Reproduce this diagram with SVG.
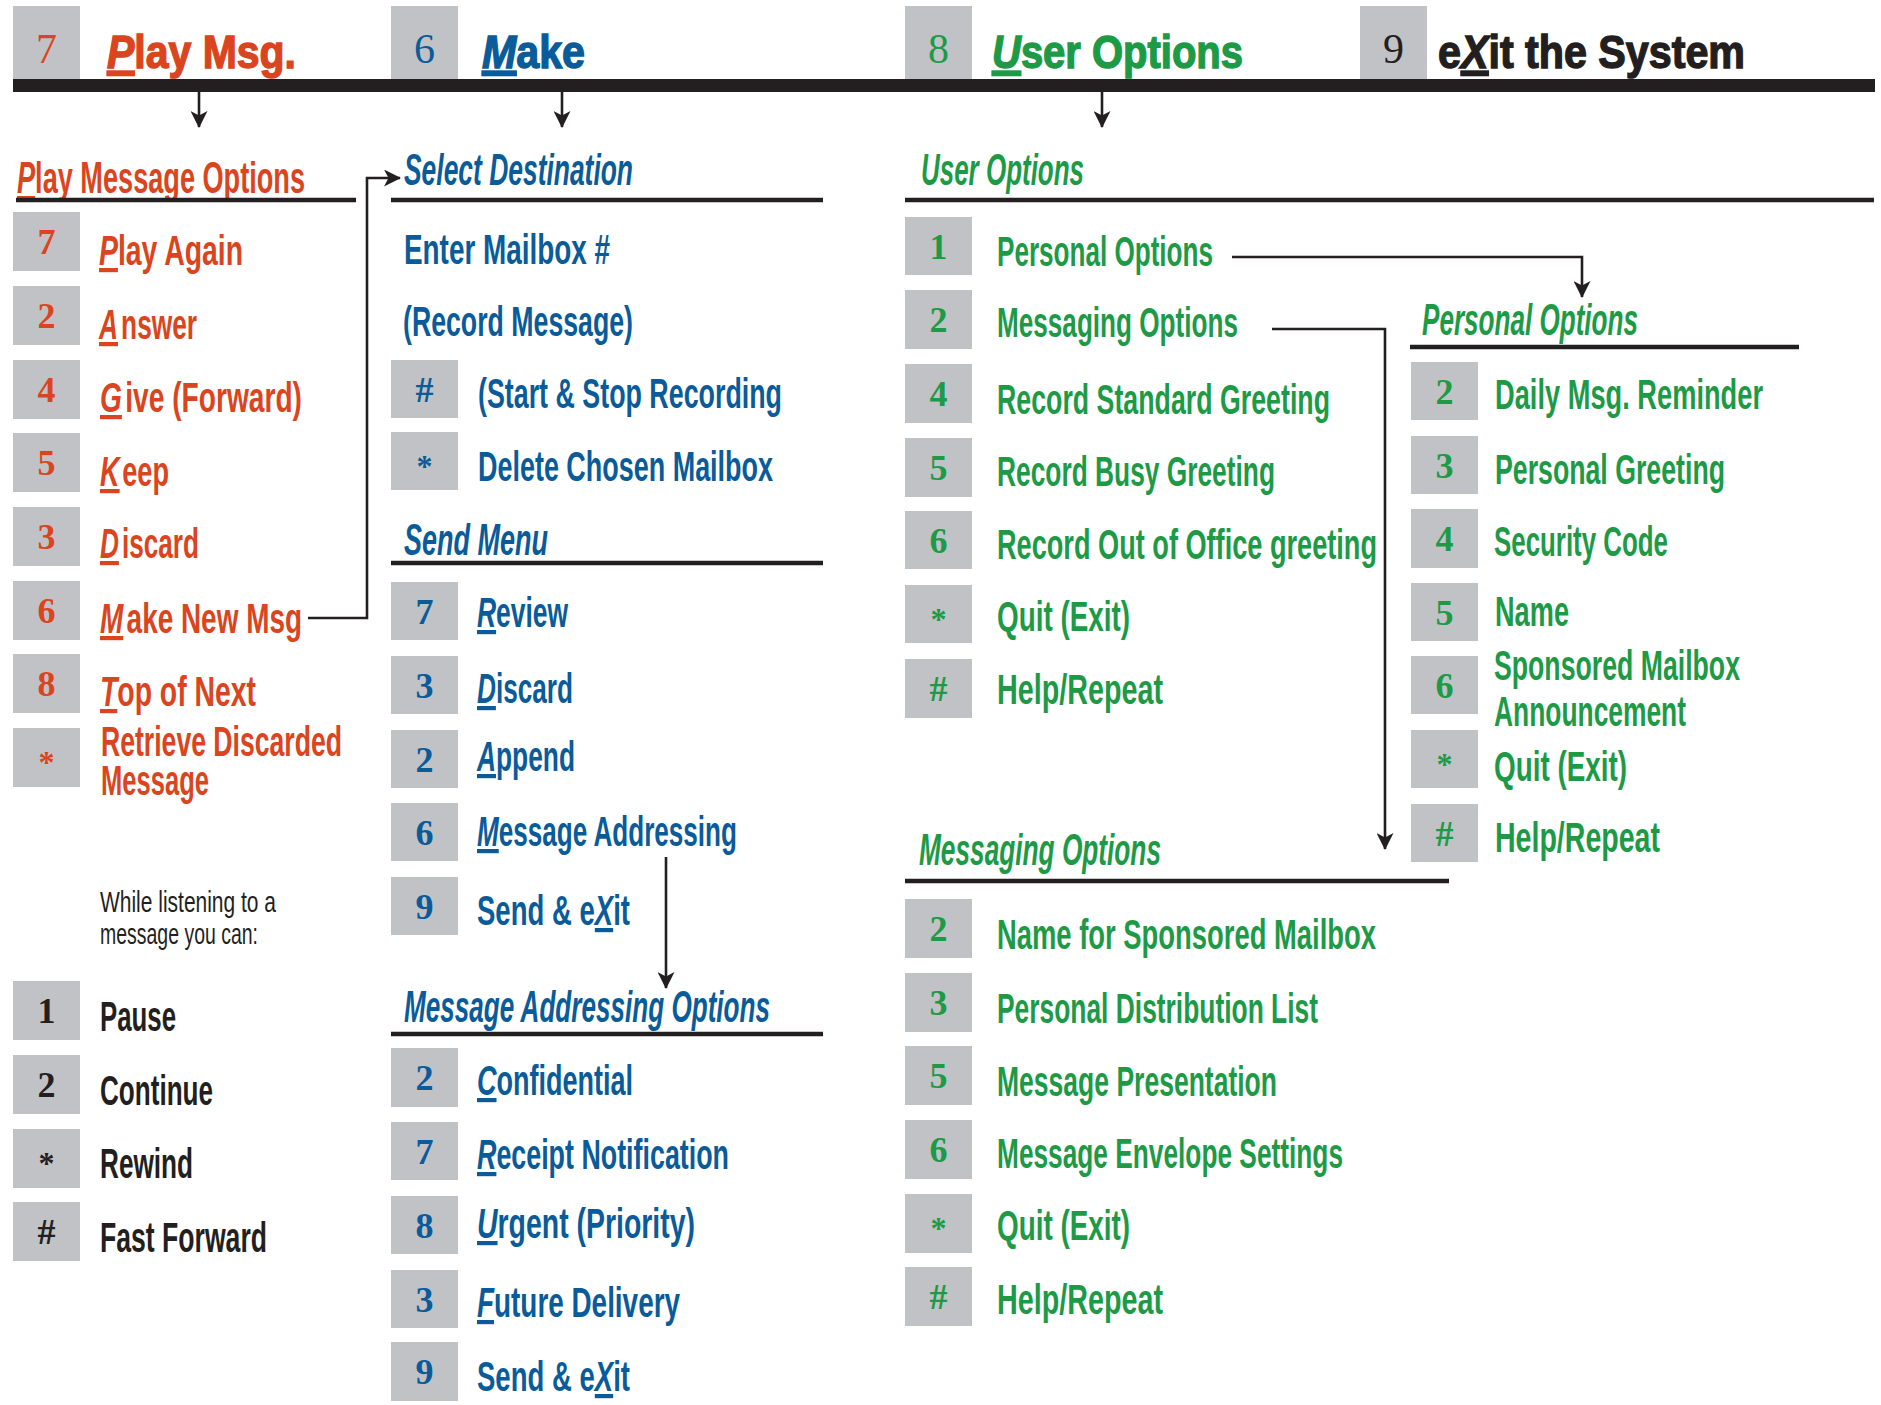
<svg xmlns="http://www.w3.org/2000/svg" width="1881" height="1405" viewBox="0 0 1881 1405">
<style>
.bg{fill:#ffffff}
.bx{fill:#C1C2C6}
.bar{fill:#231F20}
.hl{stroke:#231F20;stroke-width:4.5;fill:none}
.cn{stroke:#231F20;stroke-width:2.6;fill:none}
.num{font-family:"Liberation Serif","Times New Roman",serif;font-weight:bold;font-size:36px;text-anchor:middle}
.ast{font-family:"Liberation Serif","Times New Roman",serif;font-weight:bold;font-size:32px;text-anchor:middle}
.hn{font-family:"Liberation Serif","Times New Roman",serif;font-size:42px;text-anchor:middle}
.t{font-family:"Liberation Sans",Arial,sans-serif;font-size:42px;font-weight:bold}
.sm{font-family:"Liberation Sans",Arial,sans-serif;font-size:30px;font-weight:normal}
.hd{font-family:"Liberation Sans",Arial,sans-serif;font-size:44px;font-weight:bold;font-style:italic}
.H{font-family:"Liberation Sans",Arial,sans-serif;font-size:46px;font-weight:bold;stroke-width:1.4}
.it{font-style:italic}
.u{text-decoration:underline}
.r{fill:#DA4520}
.b{fill:#0A5B9A}
.g{fill:#1D9A46}
.k{fill:#231F20}
.rs{stroke:#DA4520}
.bs{stroke:#0A5B9A}
.gs{stroke:#1D9A46}
.ks{stroke:#231F20}
</style>
<defs>
<marker id="ah" viewBox="0 0 17 17" refX="16" refY="8.5" markerWidth="17" markerHeight="17" markerUnits="userSpaceOnUse" orient="auto">
<path d="M0,0 L17,8.5 L0,17 L4.5,8.5 Z" fill="#231F20"/>
</marker>
</defs>
<rect class="bg" x="0" y="0" width="1881" height="1405"/>

<!-- Header -->
<g id="header">
<rect class="bar" x="13" y="79" width="1862" height="13"/>
<g id="hdr-play">
<rect class="bx" x="13" y="6" width="67" height="73"/>
<text class="hn r" x="46.5" y="63">7</text>
<text class="H r rs" x="107" y="68" textLength="189" lengthAdjust="spacingAndGlyphs"><tspan class="it u">P</tspan>lay Msg.</text>
</g>
<g id="hdr-make">
<rect class="bx" x="391" y="6" width="67" height="73"/>
<text class="hn b" x="424.5" y="63">6</text>
<text class="H b bs" x="482" y="68" textLength="103" lengthAdjust="spacingAndGlyphs"><tspan class="it u">M</tspan>ake</text>
</g>
<g id="hdr-user">
<rect class="bx" x="905" y="6" width="67" height="73"/>
<text class="hn g" x="938.5" y="63">8</text>
<text class="H g gs" x="992" y="68" textLength="251" lengthAdjust="spacingAndGlyphs"><tspan class="it u">U</tspan>ser Options</text>
</g>
<g id="hdr-exit">
<rect class="bx" x="1360" y="6" width="67" height="73"/>
<text class="hn k" x="1393.5" y="63">9</text>
<text class="H k ks" x="1438" y="68" textLength="307" lengthAdjust="spacingAndGlyphs">e<tspan class="it u">X</tspan>it the System</text>
</g>
</g>

<!-- Play Message Options column -->
<g id="play-options">
<text class="hd r" x="17" y="193" textLength="288" lengthAdjust="spacingAndGlyphs" style="font-style:normal"><tspan class="it u">P</tspan>lay Message Options</text>
<line class="hl" x1="16" y1="200" x2="356" y2="200"/>
</g>
<g id="play-7"><rect class="bx" x="13" y="212" width="67" height="59"/><text class="num r" x="46.5" y="254">7</text>
<text class="t r" x="99" y="265" textLength="144" lengthAdjust="spacingAndGlyphs"><tspan class="it u">P</tspan>lay Again</text></g>
<g id="play-2"><rect class="bx" x="13" y="286" width="67" height="59"/><text class="num r" x="46.5" y="328">2</text>
<text class="t r" x="99" y="339" textLength="98" lengthAdjust="spacingAndGlyphs"><tspan class="it u">A</tspan><tspan dx="5">nswer</tspan></text></g>
<g id="play-4"><rect class="bx" x="13" y="360" width="67" height="59"/><text class="num r" x="46.5" y="402">4</text>
<text class="t r" x="100" y="412" textLength="202" lengthAdjust="spacingAndGlyphs"><tspan class="it u">G</tspan><tspan dx="5">ive (Forward)</tspan></text></g>
<g id="play-5"><rect class="bx" x="13" y="433" width="67" height="59"/><text class="num r" x="46.5" y="475">5</text>
<text class="t r" x="100" y="486" textLength="69" lengthAdjust="spacingAndGlyphs"><tspan class="it u">K</tspan><tspan dx="4">eep</tspan></text></g>
<g id="play-3"><rect class="bx" x="13" y="507" width="67" height="59"/><text class="num r" x="46.5" y="549">3</text>
<text class="t r" x="100" y="558" textLength="99" lengthAdjust="spacingAndGlyphs"><tspan class="it u">D</tspan><tspan dx="5">iscard</tspan></text></g>
<g id="play-6"><rect class="bx" x="13" y="581" width="67" height="59"/><text class="num r" x="46.5" y="623">6</text>
<text class="t r" x="100" y="633" textLength="202" lengthAdjust="spacingAndGlyphs"><tspan class="it u">M</tspan><tspan dx="5">ake New Msg</tspan></text></g>
<g id="play-8"><rect class="bx" x="13" y="654" width="67" height="59"/><text class="num r" x="46.5" y="696">8</text>
<text class="t r" x="100" y="706" textLength="156" lengthAdjust="spacingAndGlyphs"><tspan class="it u">T</tspan>op of Next</text></g>
<g id="play-star"><rect class="bx" x="13" y="728" width="67" height="59"/><text class="ast r" x="46.5" y="773">*</text>
<text class="t r" x="101" y="756" textLength="241" lengthAdjust="spacingAndGlyphs">Retrieve Discarded</text>
<text class="t r" x="101" y="795" textLength="108" lengthAdjust="spacingAndGlyphs">Message</text></g>

<!-- While listening -->
<g id="listen-note">
<text class="sm k" x="100" y="912" textLength="176" lengthAdjust="spacingAndGlyphs">While listening to a</text>
<text class="sm k" x="100" y="944" textLength="158" lengthAdjust="spacingAndGlyphs">message you can:</text>
</g>
<g id="listen-1"><rect class="bx" x="13" y="981" width="67" height="59"/><text class="num k" x="46.5" y="1023">1</text>
<text class="t k" x="100" y="1031" textLength="76" lengthAdjust="spacingAndGlyphs">Pause</text></g>
<g id="listen-2"><rect class="bx" x="13" y="1055" width="67" height="59"/><text class="num k" x="46.5" y="1097">2</text>
<text class="t k" x="100" y="1105" textLength="113" lengthAdjust="spacingAndGlyphs">Continue</text></g>
<g id="listen-star"><rect class="bx" x="13" y="1129" width="67" height="59"/><text class="ast k" x="46.5" y="1174">*</text>
<text class="t k" x="100" y="1178" textLength="93" lengthAdjust="spacingAndGlyphs">Rewind</text></g>
<g id="listen-hash"><rect class="bx" x="13" y="1202" width="67" height="59"/><text class="num k" x="46.5" y="1244">#</text>
<text class="t k" x="100" y="1252" textLength="167" lengthAdjust="spacingAndGlyphs">Fast Forward</text></g>

<!-- Make column -->
<g id="select-destination">
<text class="hd b" x="404" y="185" textLength="229" lengthAdjust="spacingAndGlyphs">Select Destination</text>
<line class="hl" x1="391" y1="200" x2="823" y2="200"/>
<text class="t b" x="404" y="264" textLength="206" lengthAdjust="spacingAndGlyphs">Enter Mailbox #</text>
<text class="t b" x="403" y="336" textLength="230" lengthAdjust="spacingAndGlyphs">(Record Message)</text>
</g>
<g id="make-hash"><rect class="bx" x="391" y="360" width="67" height="58"/><text class="num b" x="424.5" y="402">#</text>
<text class="t b" x="478" y="408" textLength="304" lengthAdjust="spacingAndGlyphs">(Start &amp; Stop Recording</text></g>
<g id="make-star"><rect class="bx" x="391" y="432" width="67" height="58"/><text class="ast b" x="424.5" y="477">*</text>
<text class="t b" x="478" y="481" textLength="295" lengthAdjust="spacingAndGlyphs">Delete Chosen Mailbox</text></g>

<g id="send-menu">
<text class="hd b" x="404" y="555" textLength="144" lengthAdjust="spacingAndGlyphs">Send Menu</text>
<line class="hl" x1="391" y1="563" x2="823" y2="563"/>
</g>
<g id="send-7"><rect class="bx" x="391" y="582" width="67" height="58"/><text class="num b" x="424.5" y="624">7</text>
<text class="t b" x="477" y="627" textLength="91" lengthAdjust="spacingAndGlyphs"><tspan class="it u">R</tspan>eview</text></g>
<g id="send-3"><rect class="bx" x="391" y="656" width="67" height="58"/><text class="num b" x="424.5" y="698">3</text>
<text class="t b" x="477" y="703" textLength="96" lengthAdjust="spacingAndGlyphs"><tspan class="it u">D</tspan>iscard</text></g>
<g id="send-2"><rect class="bx" x="391" y="730" width="67" height="58"/><text class="num b" x="424.5" y="772">2</text>
<text class="t b" x="477" y="771" textLength="98" lengthAdjust="spacingAndGlyphs"><tspan class="it u">A</tspan>ppend</text></g>
<g id="send-6"><rect class="bx" x="391" y="803" width="67" height="58"/><text class="num b" x="424.5" y="845">6</text>
<text class="t b" x="477" y="846" textLength="260" lengthAdjust="spacingAndGlyphs"><tspan class="it u">M</tspan>essage Addressing</text></g>
<g id="send-9"><rect class="bx" x="391" y="877" width="67" height="58"/><text class="num b" x="424.5" y="919">9</text>
<text class="t b" x="477" y="925" textLength="153" lengthAdjust="spacingAndGlyphs">Send &amp; e<tspan class="it u">X</tspan>it</text></g>

<g id="addressing-options">
<text class="hd b" x="404" y="1022" textLength="366" lengthAdjust="spacingAndGlyphs">Message Addressing Options</text>
<line class="hl" x1="391" y1="1034" x2="823" y2="1034"/>
</g>
<g id="addr-2"><rect class="bx" x="391" y="1048" width="67" height="59"/><text class="num b" x="424.5" y="1090">2</text>
<text class="t b" x="477" y="1095" textLength="156" lengthAdjust="spacingAndGlyphs"><tspan class="it u">C</tspan>onfidential</text></g>
<g id="addr-7"><rect class="bx" x="391" y="1122" width="67" height="58"/><text class="num b" x="424.5" y="1164">7</text>
<text class="t b" x="477" y="1169" textLength="252" lengthAdjust="spacingAndGlyphs"><tspan class="it u">R</tspan>eceipt Notification</text></g>
<g id="addr-8"><rect class="bx" x="391" y="1196" width="67" height="58"/><text class="num b" x="424.5" y="1238">8</text>
<text class="t b" x="477" y="1238" textLength="218" lengthAdjust="spacingAndGlyphs"><tspan class="it u">U</tspan>rgent (Priority)</text></g>
<g id="addr-3"><rect class="bx" x="391" y="1270" width="67" height="58"/><text class="num b" x="424.5" y="1312">3</text>
<text class="t b" x="477" y="1317" textLength="203" lengthAdjust="spacingAndGlyphs"><tspan class="it u">F</tspan>uture Delivery</text></g>
<g id="addr-9"><rect class="bx" x="391" y="1342" width="67" height="59"/><text class="num b" x="424.5" y="1384">9</text>
<text class="t b" x="477" y="1391" textLength="153" lengthAdjust="spacingAndGlyphs">Send &amp; e<tspan class="it u">X</tspan>it</text></g>

<!-- User Options column -->
<g id="user-options">
<text class="hd g" x="921" y="185" textLength="163" lengthAdjust="spacingAndGlyphs">User Options</text>
<line class="hl" x1="905" y1="200" x2="1874" y2="200"/>
</g>
<g id="user-1"><rect class="bx" x="905" y="217" width="67" height="58"/><text class="num g" x="938.5" y="259">1</text>
<text class="t g" x="997" y="266" textLength="216" lengthAdjust="spacingAndGlyphs">Personal Options</text></g>
<g id="user-2"><rect class="bx" x="905" y="290" width="67" height="59"/><text class="num g" x="938.5" y="332">2</text>
<text class="t g" x="997" y="337" textLength="241" lengthAdjust="spacingAndGlyphs">Messaging Options</text></g>
<g id="user-4"><rect class="bx" x="905" y="364" width="67" height="59"/><text class="num g" x="938.5" y="406">4</text>
<text class="t g" x="997" y="414" textLength="333" lengthAdjust="spacingAndGlyphs">Record Standard Greeting</text></g>
<g id="user-5"><rect class="bx" x="905" y="438" width="67" height="59"/><text class="num g" x="938.5" y="480">5</text>
<text class="t g" x="997" y="486" textLength="278" lengthAdjust="spacingAndGlyphs">Record Busy Greeting</text></g>
<g id="user-6"><rect class="bx" x="905" y="511" width="67" height="58"/><text class="num g" x="938.5" y="553">6</text>
<text class="t g" x="997" y="559" textLength="380" lengthAdjust="spacingAndGlyphs">Record Out of Office greeting</text></g>
<g id="user-star"><rect class="bx" x="905" y="585" width="67" height="58"/><text class="ast g" x="938.5" y="630">*</text>
<text class="t g" x="997" y="631" textLength="133" lengthAdjust="spacingAndGlyphs">Quit (Exit)</text></g>
<g id="user-hash"><rect class="bx" x="905" y="659" width="67" height="59"/><text class="num g" x="938.5" y="701">#</text>
<text class="t g" x="997" y="704" textLength="166" lengthAdjust="spacingAndGlyphs">Help/Repeat</text></g>

<!-- Personal Options -->
<g id="personal-options">
<text class="hd g" x="1422" y="335" textLength="216" lengthAdjust="spacingAndGlyphs">Personal Options</text>
<line class="hl" x1="1410" y1="347" x2="1799" y2="347"/>
</g>
<g id="pers-2"><rect class="bx" x="1411" y="362" width="67" height="58"/><text class="num g" x="1444.5" y="404">2</text>
<text class="t g" x="1495" y="409" textLength="268" lengthAdjust="spacingAndGlyphs">Daily Msg. Reminder</text></g>
<g id="pers-3"><rect class="bx" x="1411" y="436" width="67" height="58"/><text class="num g" x="1444.5" y="478">3</text>
<text class="t g" x="1495" y="484" textLength="230" lengthAdjust="spacingAndGlyphs">Personal Greeting</text></g>
<g id="pers-4"><rect class="bx" x="1411" y="509" width="67" height="59"/><text class="num g" x="1444.5" y="551">4</text>
<text class="t g" x="1494" y="556" textLength="174" lengthAdjust="spacingAndGlyphs">Security Code</text></g>
<g id="pers-5"><rect class="bx" x="1411" y="583" width="67" height="58"/><text class="num g" x="1444.5" y="625">5</text>
<text class="t g" x="1495" y="626" textLength="74" lengthAdjust="spacingAndGlyphs">Name</text></g>
<g id="pers-6"><rect class="bx" x="1411" y="656" width="67" height="58"/><text class="num g" x="1444.5" y="698">6</text>
<text class="t g" x="1494" y="680" textLength="246" lengthAdjust="spacingAndGlyphs">Sponsored Mailbox</text>
<text class="t g" x="1494" y="726" textLength="192" lengthAdjust="spacingAndGlyphs">Announcement</text></g>
<g id="pers-star"><rect class="bx" x="1411" y="730" width="67" height="58"/><text class="ast g" x="1444.5" y="775">*</text>
<text class="t g" x="1494" y="781" textLength="133" lengthAdjust="spacingAndGlyphs">Quit (Exit)</text></g>
<g id="pers-hash"><rect class="bx" x="1411" y="804" width="67" height="58"/><text class="num g" x="1444.5" y="846">#</text>
<text class="t g" x="1495" y="852" textLength="165" lengthAdjust="spacingAndGlyphs">Help/Repeat</text></g>

<!-- Messaging Options -->
<g id="messaging-options">
<text class="hd g" x="919" y="865" textLength="242" lengthAdjust="spacingAndGlyphs">Messaging Options</text>
<line class="hl" x1="905" y1="881" x2="1449" y2="881"/>
</g>
<g id="msg-2"><rect class="bx" x="905" y="899" width="67" height="59"/><text class="num g" x="938.5" y="941">2</text>
<text class="t g" x="997" y="949" textLength="379" lengthAdjust="spacingAndGlyphs">Name for Sponsored Mailbox</text></g>
<g id="msg-3"><rect class="bx" x="905" y="973" width="67" height="59"/><text class="num g" x="938.5" y="1015">3</text>
<text class="t g" x="997" y="1023" textLength="321" lengthAdjust="spacingAndGlyphs">Personal Distribution List</text></g>
<g id="msg-5"><rect class="bx" x="905" y="1046" width="67" height="59"/><text class="num g" x="938.5" y="1088">5</text>
<text class="t g" x="997" y="1096" textLength="280" lengthAdjust="spacingAndGlyphs">Message Presentation</text></g>
<g id="msg-6"><rect class="bx" x="905" y="1120" width="67" height="59"/><text class="num g" x="938.5" y="1162">6</text>
<text class="t g" x="997" y="1168" textLength="346" lengthAdjust="spacingAndGlyphs">Message Envelope Settings</text></g>
<g id="msg-star"><rect class="bx" x="905" y="1194" width="67" height="59"/><text class="ast g" x="938.5" y="1239">*</text>
<text class="t g" x="997" y="1240" textLength="133" lengthAdjust="spacingAndGlyphs">Quit (Exit)</text></g>
<g id="msg-hash"><rect class="bx" x="905" y="1267" width="67" height="59"/><text class="num g" x="938.5" y="1309">#</text>
<text class="t g" x="997" y="1314" textLength="166" lengthAdjust="spacingAndGlyphs">Help/Repeat</text></g>

<!-- Connectors -->
<g id="connectors" class="cn">
<line x1="199" y1="92" x2="199" y2="127" marker-end="url(#ah)"/>
<line x1="562" y1="92" x2="562" y2="127" marker-end="url(#ah)"/>
<line x1="1102" y1="92" x2="1102" y2="127" marker-end="url(#ah)"/>
<polyline points="308,618 367,618 367,178 400,178" marker-end="url(#ah)"/>
<line x1="666" y1="857" x2="666" y2="988" marker-end="url(#ah)"/>
<polyline points="1232,257 1582,257 1582,297" marker-end="url(#ah)"/>
<polyline points="1272,329 1385,329 1385,849" marker-end="url(#ah)"/>
</g>
</svg>
